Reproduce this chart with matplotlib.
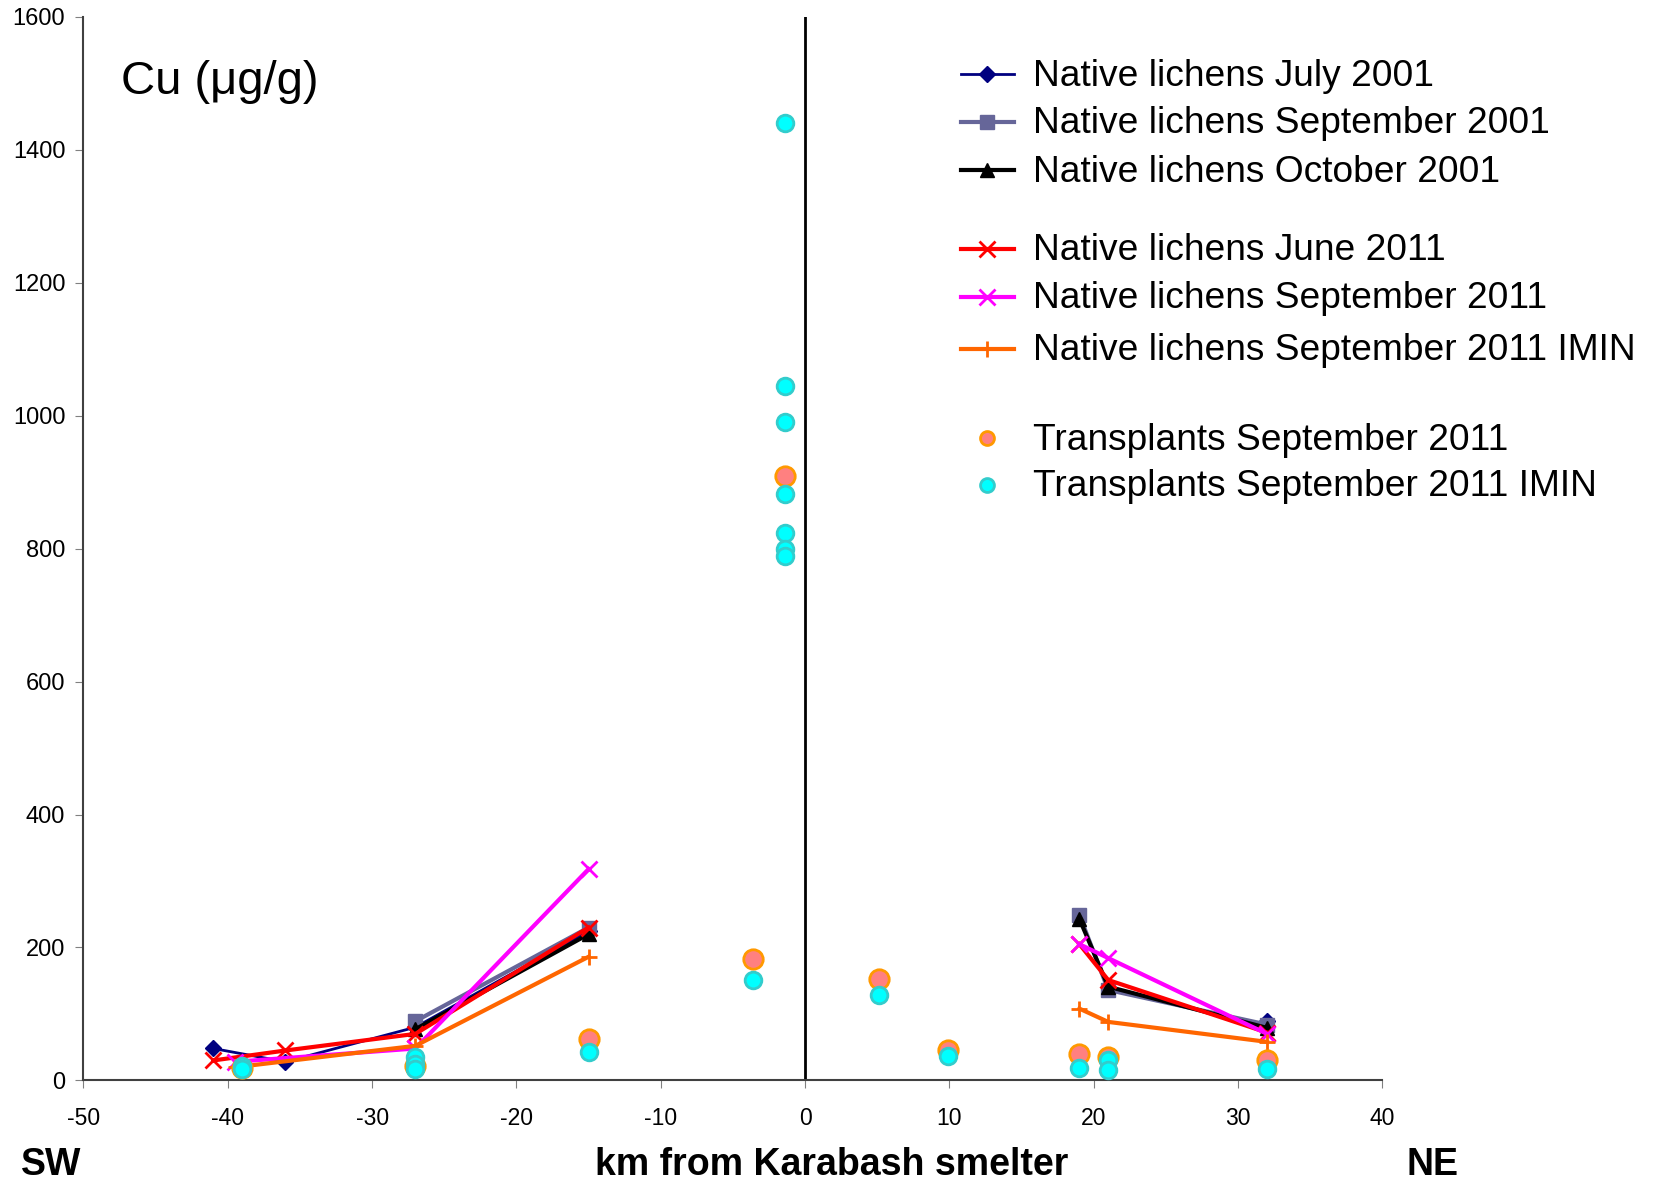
import numpy as np
import matplotlib
matplotlib.use("Agg")
import matplotlib.pyplot as plt
from matplotlib.lines import Line2D

plt.rcParams['font.family'] = ['Liberation Sans', 'DejaVu Sans']
plt.rcParams['axes.unicode_minus'] = False

nan = np.nan

# native lichens (NaN breaks the line between SW and NE sides)
x_july01 = [-41, -36, -27, -15, nan, 32]
y_july01 = [48, 28, 80, 225, nan, 90]

x_sep01 = [-27, -15, nan, 19, 21, 32]
y_sep01 = [89, 230, nan, 249, 136, 84]

x_oct01 = [-27, -15, nan, 19, 21, 32]
y_oct01 = [77, 220, nan, 243, 141, 79]

x_jun11 = [-41, -36, -27, -15, nan, 19, 21, 32]
y_jun11 = [30, 45, 70, 230, nan, 205, 151, 72]

x_sep11 = [-39.5, -27, -15, nan, 19, 21, 32]
y_sep11 = [28, 48, 318, nan, 205, 184, 70]

x_sep11i = [-39.4, -27, -15, nan, 19, 21, 32]
y_sep11i = [20, 52, 186, nan, 108, 88, 58]

# transplants
x_tr = [-39, -27, -15, -3.6, -1.4, 5.1, 9.9, 19, 21, 32]
y_tr = [19, 22, 62, 182, 910, 153, 46, 40, 35, 30]

x_tri = [-39, -39, -27, -27, -27, -15, -3.6, -1.4, -1.4, -1.4, -1.4, -1.4, -1.4, -1.4,
         5.1, 9.9, 19, 21, 21, 32]
y_tri = [22, 17, 35, 25, 17, 42, 151, 1441, 1045, 991, 882, 823, 800, 789,
         128, 37, 18, 31, 16, 17]

W, H = 1656, 1183
fig = plt.figure(figsize=(W / 100, H / 100), dpi=100)
ax = fig.add_axes([83.4 / W, 1 - 1080.4 / H, (1382.5 - 83.4) / W, (1080.4 - 16.9) / H])

styles = [
    (x_july01, y_july01, "Native lichens July 2001", dict(color="#000080", marker="D", ms=8, lw=2)),
    (x_sep01, y_sep01, "Native lichens September 2001", dict(color="#666699", marker="s", ms=10, lw=3)),
    (x_oct01, y_oct01, "Native lichens October 2001", dict(color="black", marker="^", ms=10, lw=3)),
    (x_jun11, y_jun11, "Native lichens June 2011", dict(color="#FF0000", marker="x", ms=11, mew=2, lw=3)),
    (x_sep11, y_sep11, "Native lichens September 2011", dict(color="#FF00FF", marker="x", ms=11, mew=2, lw=3)),
    (x_sep11i, y_sep11i, "Native lichens September 2011 IMIN", dict(color="#FF6600", marker="+", ms=11, mew=2, lw=3)),
]
for xs, ys, lab, st in styles:
    ax.plot(xs, ys, zorder=3, **st)

ax.plot(x_tr, y_tr, ls="none", marker="o", ms=14, mfc="#FF8080", mec="#FF9900", mew=2, zorder=4)
ax.plot(x_tri, y_tri, ls="none", marker="o", ms=12, mfc="#00FFFF", mec="#33CCCC", mew=2, zorder=5)

ax.plot([0, 0], [0, 1600], color="black", lw=2, zorder=2)

ax.set_xlim(-50, 40)
ax.set_ylim(0, 1600)
ax.set_xticks(np.arange(-50, 41, 10))
ax.set_yticks(np.arange(0, 1601, 200))
for s in ["top", "right"]:
    ax.spines[s].set_visible(False)
for s in ["left", "bottom"]:
    ax.spines[s].set_color("#404040")
    ax.spines[s].set_linewidth(1.5)
ax.tick_params(axis="x", direction="out", length=6, color="#808080", labelsize=16.5, pad=13)
ax.tick_params(axis="y", direction="out", length=6, color="#808080", labelsize=17, pad=7)

ax.text(121 / W, 1 - 82 / H, "Cu (\u03bcg/g)", transform=fig.transFigure, fontsize=34,
        va="center", ha="left")

# legend drawn row by row
rows_y = [74, 121.5, 170, 249, 297, 348.5, 438, 485]
for (xs, ys, lab, st), ry in zip(styles, rows_y[:6]):
    yy = 1 - ry / H
    fig.add_artist(Line2D([961 / W, 1014 / W], [yy, yy], transform=fig.transFigure,
                          color=st["color"], lw=st["lw"], marker=None))
    fig.add_artist(Line2D([987.5 / W], [yy], transform=fig.transFigure, color=st["color"],
                          marker=st["marker"], ms=st["ms"], mew=st.get("mew", 1), ls="none"))
    fig.text(1033 / W, yy - 2 / H, lab, fontsize=26.7, va="center", ha="left")

for lab, fc, ec, ry in [("Transplants September 2011", "#FF8080", "#FF9900", rows_y[6]),
                        ("Transplants September 2011 IMIN", "#00FFFF", "#33CCCC", rows_y[7])]:
    yy = 1 - ry / H
    fig.add_artist(Line2D([987.5 / W], [yy], transform=fig.transFigure, ls="none",
                          marker="o", ms=10, mfc=fc, mec=ec, mew=2))
    fig.text(1033 / W, yy - 2 / H, lab, fontsize=26.7, va="center", ha="left")

fig.text(21 / W, 1 - 1165 / H, "SW", fontsize=27, fontweight="bold", va="center", ha="left")
fig.text(832 / W, 1 - 1165 / H, "km from Karabash smelter", fontsize=27, fontweight="bold",
         va="center", ha="center")
fig.text(1433 / W, 1 - 1165 / H, "NE", fontsize=27, fontweight="bold", va="center", ha="center")

fig.savefig("out.png", dpi=100)
